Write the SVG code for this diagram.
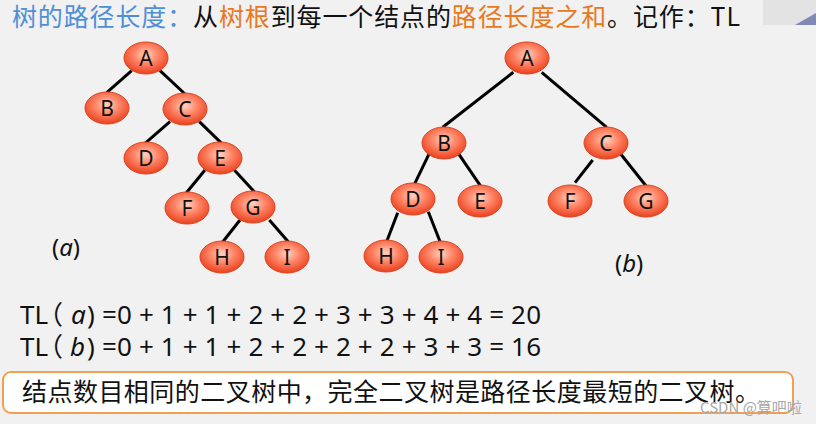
<svg xmlns="http://www.w3.org/2000/svg" width="816" height="424" viewBox="0 0 816 424">
<defs>
<radialGradient id="ng" cx="50%" cy="40%" r="62%">
<stop offset="0%" stop-color="#ffd2c2"/>
<stop offset="45%" stop-color="#ff8566"/>
<stop offset="100%" stop-color="#e83c1a"/>
</radialGradient>
<style>
.n ellipse{fill:url(#ng);stroke:#dc4420;stroke-width:1}
.n text{font-family:"Noto Sans","Open Sans",sans-serif;font-size:21px;fill:#111;text-anchor:middle}
.e line{stroke:#000;stroke-width:3;stroke-linecap:butt}
.cj{font-family:"Noto Sans CJK SC","Noto Sans",sans-serif}
.f{font-family:"Noto Sans","Noto Sans CJK SC",sans-serif;font-size:26px;fill:#111}
.lab{font-family:"Noto Sans",sans-serif;font-size:24px;fill:#111}
</style>
</defs>
<rect width="816" height="424" fill="#f1f1f1"/>
<rect x="763" y="0" width="53" height="25" fill="#e3e3e3"/>
<polygon points="795,25 816,13 816,25" fill="#8089b5"/>

<text class="cj" x="12" y="26" font-size="25" textLength="728" lengthAdjust="spacing"><tspan fill="#4f8fd6">树的路径长度：</tspan><tspan fill="#111">从</tspan><tspan fill="#e8791e">树根</tspan><tspan fill="#111">到每一个结点的</tspan><tspan fill="#e8791e">路径长度之和</tspan><tspan fill="#111">。记作：TL</tspan></text>

<g id="connectors" class="e">
<line x1="131.7" y1="70.7" x2="106.7" y2="92.7"/>
<line x1="160" y1="70.7" x2="185" y2="94"/>
<line x1="170" y1="121.7" x2="145" y2="143.3"/>
<line x1="199.3" y1="121.7" x2="221.7" y2="143.3"/>
<line x1="205" y1="170" x2="186" y2="193.3"/>
<line x1="234.3" y1="170" x2="254.3" y2="191.7"/>
<line x1="240" y1="220" x2="221.7" y2="243.3"/>
<line x1="269.3" y1="220" x2="288.3" y2="241.7"/>
<line x1="513.3" y1="72.3" x2="442.7" y2="127.3"/>
<line x1="541.7" y1="72.3" x2="606.7" y2="127.3"/>
<line x1="429.3" y1="153.3" x2="413.3" y2="186.7"/>
<line x1="458.3" y1="153.3" x2="481" y2="186.7"/>
<line x1="592.7" y1="160" x2="575" y2="182.7"/>
<line x1="620.7" y1="154" x2="646.7" y2="186.7"/>
<line x1="397.7" y1="212.7" x2="386" y2="243.3"/>
<line x1="428.3" y1="211.7" x2="440.7" y2="243.3"/>
</g>

<g id="a-A" class="n"><ellipse cx="146" cy="58" rx="22" ry="16"/><text x="146" y="65.5">A</text></g>
<g id="a-B" class="n"><ellipse cx="107" cy="108" rx="22" ry="16"/><text x="107" y="115.5">B</text></g>
<g id="a-C" class="n"><ellipse cx="185" cy="109" rx="22" ry="16"/><text x="185" y="116.5">C</text></g>
<g id="a-D" class="n"><ellipse cx="146" cy="158" rx="22" ry="16"/><text x="146" y="165.5">D</text></g>
<g id="a-E" class="n"><ellipse cx="220" cy="158" rx="22" ry="16"/><text x="220" y="165.5">E</text></g>
<g id="a-F" class="n"><ellipse cx="187" cy="208" rx="22" ry="16"/><text x="187" y="215.5">F</text></g>
<g id="a-G" class="n"><ellipse cx="253" cy="207" rx="22" ry="16"/><text x="253" y="214.5">G</text></g>
<g id="a-H" class="n"><ellipse cx="222" cy="257" rx="22" ry="16"/><text x="222" y="264.5">H</text></g>
<g id="a-I" class="n"><ellipse cx="287" cy="257" rx="22" ry="16"/><text x="287" y="264.5">I</text></g>

<g id="b-A" class="n"><ellipse cx="527" cy="58" rx="22" ry="16"/><text x="527" y="65.5">A</text></g>
<g id="b-B" class="n"><ellipse cx="444" cy="143" rx="22" ry="16"/><text x="444" y="150.5">B</text></g>
<g id="b-C" class="n"><ellipse cx="606" cy="143" rx="22" ry="16"/><text x="606" y="150.5">C</text></g>
<g id="b-D" class="n"><ellipse cx="413" cy="199" rx="22" ry="16"/><text x="413" y="206.5">D</text></g>
<g id="b-E" class="n"><ellipse cx="480" cy="201" rx="22" ry="16"/><text x="480" y="208.5">E</text></g>
<g id="b-F" class="n"><ellipse cx="570" cy="201" rx="22" ry="16"/><text x="570" y="208.5">F</text></g>
<g id="b-G" class="n"><ellipse cx="646" cy="201" rx="22" ry="16"/><text x="646" y="208.5">G</text></g>
<g id="b-H" class="n"><ellipse cx="386" cy="256" rx="22" ry="16"/><text x="386" y="263.5">H</text></g>
<g id="b-I" class="n"><ellipse cx="441" cy="257" rx="22" ry="16"/><text x="441" y="264.5">I</text></g>

<text class="lab" x="52" y="256">(<tspan font-style="italic">a</tspan>)</text>
<text class="lab" x="615" y="272">(<tspan font-style="italic">b</tspan>)</text>

<text class="f" x="20" y="324">TL<tspan dx="-11">（</tspan><tspan x="71" font-style="italic">a</tspan><tspan x="87">)</tspan></text>
<text class="f" x="102" y="324" textLength="439" lengthAdjust="spacing">=0 + 1 + 1 + 2 + 2 + 3 + 3 + 4 + 4 = 20</text>

<text class="f" x="20" y="356">TL<tspan dx="-11">（</tspan><tspan x="70" font-style="italic">b</tspan><tspan x="87">)</tspan></text>
<text class="f" x="102" y="356" textLength="439" lengthAdjust="spacing">=0 + 1 + 1 + 2 + 2 + 2 + 2 + 3 + 3 = 16</text>

<rect x="3" y="372" width="790" height="41" rx="8" fill="#ffffff" stroke="#f0a050" stroke-width="2"/>
<text class="cj" x="22" y="401" font-size="25" fill="#111" textLength="738" lengthAdjust="spacing">结点数目相同的二叉树中，完全二叉树是路径长度最短的二叉树。</text>
<text class="cj" x="700" y="413" font-size="15" fill="#a8a8a8">CSDN @算吧啦</text>
</svg>
